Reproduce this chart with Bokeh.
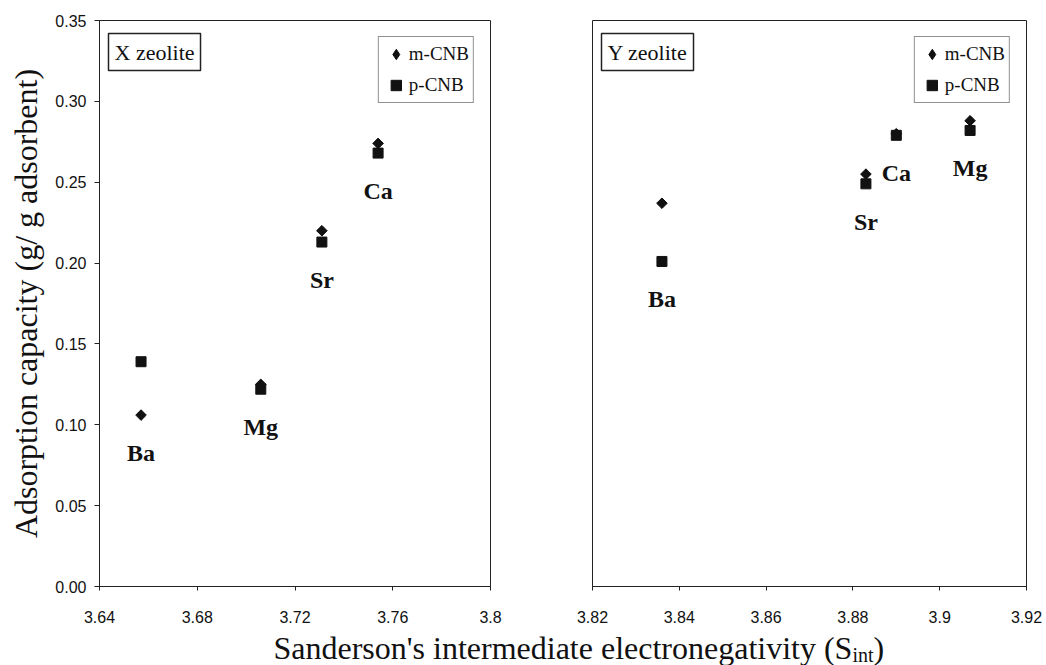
import math
from bokeh.plotting import figure
from bokeh.layouts import row, column
from bokeh.models import (FixedTicker, Label, Legend, LegendItem,
                          ColumnDataSource, Range1d)
from bokeh.core.properties import value
from bokeh.embed import file_html
from bokeh.resources import INLINE

# ---------------- data ----------------
cations_X = ["Ba", "Mg", "Sr", "Ca"]
sint_X = [3.657, 3.706, 3.731, 3.754]
m_cnb_X = [0.106, 0.125, 0.220, 0.274]
p_cnb_X = [0.139, 0.122, 0.213, 0.268]

cations_Y = ["Ba", "Sr", "Ca", "Mg"]
sint_Y = [3.836, 3.883, 3.890, 3.907]
m_cnb_Y = [0.237, 0.255, 0.280, 0.288]
p_cnb_Y = [0.201, 0.249, 0.279, 0.282]

y_ticks = [0.00, 0.05, 0.10, 0.15, 0.20, 0.25, 0.30, 0.35]
y_tick_labels = ["0.00", "0.05", "0.10", "0.15", "0.20", "0.25", "0.30", "0.35"]
x_ticks_X = [3.64, 3.68, 3.72, 3.76, 3.80]
x_tick_labels_X = ["3.64", "3.68", "3.72", "3.76", "3.8"]
x_ticks_Y = [3.82, 3.84, 3.86, 3.88, 3.90, 3.92]
x_tick_labels_Y = ["3.82", "3.84", "3.86", "3.88", "3.9", "3.92"]

series_names = ["m-CNB", "p-CNB"]
panel_names = ["X zeolite", "Y zeolite"]
y_title = "Adsorption capacity (g/ g adsorbent)"

INK = "#111111"
FRAME = "#222222"
SERIF = "Liberation Serif"
SANS = "Liberation Sans"


def make_panel(xs, m, p, names, xticks, xlabels, panel_name, left_border,
               right_border, frame_w, show_y):
    f = figure(frame_width=frame_w, frame_height=566,
               min_border_left=left_border, min_border_right=right_border,
               min_border_top=20, min_border_bottom=43,
               x_range=Range1d(xticks[0], xticks[-1]),
               y_range=Range1d(y_ticks[0], y_ticks[-1]),
               toolbar_location=None, output_backend="svg",
               y_axis_location="left" if show_y else None)
    f.title = None
    f.xgrid.visible = False
    f.ygrid.visible = False
    f.outline_line_color = FRAME
    f.outline_line_width = 1
    f.background_fill_color = "white"
    f.border_fill_color = "white"

    xa = f.xaxis[0]
    xa.ticker = FixedTicker(ticks=xticks)
    xa.major_label_overrides = {t: l for t, l in zip(xticks, xlabels)}
    xa.minor_tick_line_color = None
    xa.major_tick_in = 0
    xa.major_tick_out = 4
    xa.major_label_standoff = 20
    xa.major_label_text_font = SANS
    xa.major_label_text_font_size = "16px"
    xa.major_label_text_color = INK
    xa.axis_line_color = FRAME
    xa.major_tick_line_color = FRAME
    xa.axis_label = None
    xa.axis_label_standoff = 0
    xa.axis_label_text_font_size = "0px"

    if show_y:
        ya = f.yaxis[0]
        ya.ticker = FixedTicker(ticks=y_ticks)
        ya.major_label_overrides = {t: l for t, l in zip(y_ticks, y_tick_labels)}
        ya.minor_tick_line_color = None
        ya.major_tick_in = 0
        ya.major_tick_out = 5
        ya.major_label_standoff = 8
        ya.major_label_text_font = SANS
        ya.major_label_text_font_size = "16px"
        ya.major_label_text_color = INK
        ya.axis_line_color = FRAME
        ya.major_tick_line_color = FRAME
        ya.axis_label = y_title
        ya.axis_label_text_font = SERIF
        ya.axis_label_text_font_size = "32px"
        ya.axis_label_text_font_style = "normal"
        ya.axis_label_text_color = INK
        ya.axis_label_standoff = 8

    src = ColumnDataSource(dict(x=xs, m=m, p=p, name=names,
                                low=[min(a, b) for a, b in zip(m, p)]))
    rp = f.scatter("x", "p", source=src, marker="square", size=10,
                   fill_color=INK, line_color=INK)
    # legend key for m-CNB: Bokeh diamond, fully hidden under the rotated square
    rm_key = f.scatter("x", "m", source=src, marker="diamond", size=9,
                       fill_color=INK, line_color=INK)
    f.scatter("x", "m", source=src, marker="square", angle=math.pi / 4,
              size=7.5, fill_color=INK, line_color=INK)

    f.text("x", "low", text="name", source=src, y_offset=38,
           text_align="center", text_baseline="middle",
           text_font=value(SERIF), text_font_style="bold",
           text_font_size="24px", text_color=INK)

    legend = Legend(items=[LegendItem(label=series_names[0], renderers=[rm_key]),
                           LegendItem(label=series_names[1], renderers=[rp])],
                    location="top_right", margin=16, padding=4, spacing=5,
                    glyph_width=26, glyph_height=26, label_standoff=0,
                    label_text_font=SERIF, label_text_font_size="19px",
                    label_text_color=INK,
                    border_line_color=FRAME, border_line_width=1,
                    background_fill_color="white", background_fill_alpha=1)
    f.add_layout(legend)

    f.add_layout(Label(x=9, y=553, x_units="screen", y_units="screen",
                       text=panel_name, text_font=SERIF,
                       text_font_size="22px", text_color=INK,
                       text_align="left", text_baseline="top",
                       padding=6, border_line_color=FRAME,
                       border_line_width=1.5,
                       background_fill_color="white"))
    return f


p1 = make_panel(sint_X, m_cnb_X, p_cnb_X, cations_X, x_ticks_X,
                x_tick_labels_X, panel_names[0], 99, 50, 391, True)
p2 = make_panel(sint_Y, m_cnb_Y, p_cnb_Y, cations_Y, x_ticks_Y,
                x_tick_labels_Y, panel_names[1], 52, 20, 434, False)

# shared x-axis title strip
t = figure(frame_width=1046, frame_height=36, min_border=0,
           min_border_left=0, min_border_right=0, min_border_top=0,
           min_border_bottom=0, x_range=Range1d(0, 1046),
           y_range=Range1d(0, 36), toolbar_location=None,
           output_backend="svg", x_axis_location=None, y_axis_location=None)
t.title = None
t.outline_line_color = None
t.xgrid.visible = False
t.ygrid.visible = False
for txt, x, y, size in [("Sanderson's intermediate electronegativity (", 273, 18, "32px"),
                        ("S", 834, 18, "32px"),
                        ("int", 852, 11, "20px"),
                        (")", 873, 18, "32px")]:
    t.add_layout(Label(x=x, y=y, x_units="screen", y_units="screen",
                       text=txt, text_font=SERIF, text_font_size=size,
                       text_color=INK, text_align="left",
                       text_baseline="middle"))

layout = column(row(p1, p2, spacing=0), t, spacing=0)

open("out.html", "w").write(file_html(layout, INLINE))
